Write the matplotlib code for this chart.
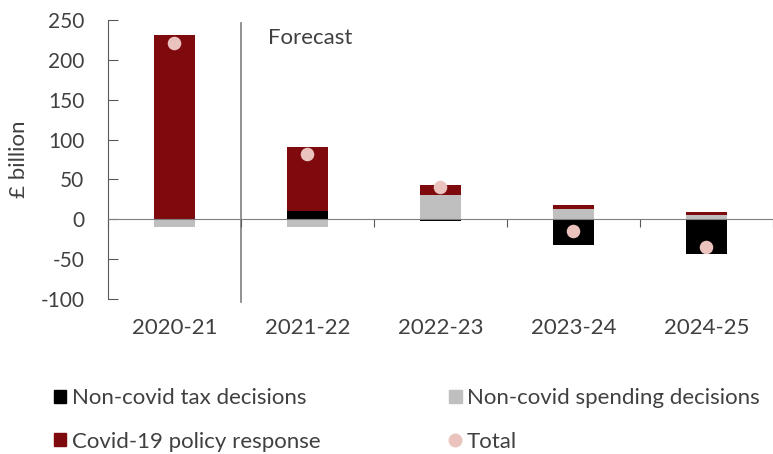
import matplotlib
matplotlib.use("Agg")
import matplotlib.pyplot as plt
import numpy as np
from matplotlib.lines import Line2D
from matplotlib.patches import Patch

categories = ["2020-21", "2021-22", "2022-23", "2023-24", "2024-25"]
tax = [0, 10, -2, -32.6, -44]
spending = [-9.3, -9.2, 30.5, 13, 5.4]
covid = [231, 80.7, 12.5, 5, 3.4]
total = [221.6, 81.5, 40, -15, -34.3]
yticks = [-100, -50, 0, 50, 100, 150, 200, 250]

plt.rcParams['font.family'] = ['Lato', 'DejaVu Sans']
txt = '#404040'

fig = plt.figure(figsize=(7.73, 4.54), dpi=100)
ax = fig.add_axes([0.1397, 0.3414, 0.8603, 0.6146])

x = np.arange(len(categories))
width = 0.31
series = [(tax, '#000000', 'Non-covid tax decisions'),
          (spending, '#BFBFBF', 'Non-covid spending decisions'),
          (covid, '#7F0A0E', 'Covid-19 policy response')]
pos = np.zeros(len(x))
neg = np.zeros(len(x))
for vals, col, lab in series:
    v = np.array(vals, dtype=float)
    bottoms = np.where(v >= 0, pos, neg)
    ax.bar(x, v, width, bottom=bottoms, color=col, zorder=2)
    pos = pos + np.where(v >= 0, v, 0)
    neg = neg + np.where(v < 0, v, 0)

ax.scatter(x, total, s=95, color='#EBC3BE', zorder=3, linewidths=0)

ax.set_xlim(-0.5, len(categories) - 0.5)
ax.set_ylim(-100, 250)
ax.set_yticks(yticks)
ax.set_yticklabels([str(t) for t in yticks])
ax.tick_params(axis='y', direction='in', length=7, color='#595959', labelsize=15, labelcolor=txt, pad=17)
ax.set_ylabel('£ billion', fontsize=16, color=txt, labelpad=8)

for s in ['top', 'right']:
    ax.spines[s].set_visible(False)
ax.spines['left'].set_color('#595959')
ax.spines['bottom'].set_position(('data', 0))
ax.spines['bottom'].set_color('#7f7f7f')
ax.set_xticks(np.arange(len(categories) + 1) - 0.5)
ax.set_xticklabels([])
ax.tick_params(axis='x', direction='out', length=6, color='#595959')

sec = ax.secondary_xaxis(location=0)
sec.set_xticks(x)
sec.set_xticklabels(categories)
sec.tick_params(length=0, labelsize=16, labelcolor=txt, pad=14)
sec.spines['bottom'].set_visible(False)

ax.axvline(0.5, ymin=-0.01, ymax=0.99, color='#7f7f7f', lw=1.2, clip_on=False, zorder=1)
ax.text(0.7, 227, 'Forecast', fontsize=16, color=txt, va='center', ha='left')

handles = [Patch(color='#000000'), Patch(color='#BFBFBF'), Patch(color='#7F0A0E'),
           Line2D([], [], marker='o', ls='none', color='#EBC3BE', markersize=9)]
labels = ['Non-covid tax decisions', 'Non-covid spending decisions',
          'Covid-19 policy response', 'Total']
order = [0, 2, 1, 3]
fig.legend([handles[i] for i in order], [labels[i] for i in order], ncol=2,
           loc='upper left', bbox_to_anchor=(0.0699, 0.145), frameon=False,
           borderpad=0, borderaxespad=0,
           fontsize=16, labelcolor=txt, handlelength=0.55, handleheight=0.55,
           handletextpad=0.25, columnspacing=5.8, labelspacing=1.05)

fig.savefig('out.png', dpi=100)
